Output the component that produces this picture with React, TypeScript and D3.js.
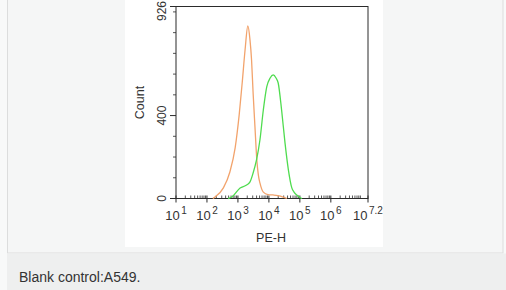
import React from "react";
import * as d3 from "d3";

// PE-H exponent (log10) and counts
const blankExp = [2.19, 2.26, 2.53, 2.74, 2.91, 3.04, 3.14, 3.23, 3.32, 3.39, 3.44, 3.49, 3.55, 3.61, 3.66, 3.71, 3.82, 3.97, 4.14, 4.29, 4.46, 4.58];
const blankCount = [0, 7, 51, 128, 244, 403, 562, 716, 832, 764, 668, 509, 345, 186, 113, 75, 31, 19, 17, 14, 7, 0];
const sampleExp = [2.68, 2.8, 3.07, 3.28, 3.39, 3.49, 3.6, 3.71, 3.82, 3.93, 4.04, 4.14, 4.23, 4.3, 4.41, 4.52, 4.63, 4.74, 4.81, 4.9, 5.0, 5.07];
const sampleCount = [0, 7, 51, 65, 80, 123, 186, 282, 427, 538, 581, 596, 581, 557, 427, 268, 137, 51, 31, 17, 5, 0];
const xTickExps = ["1", "2", "3", "4", "5", "6", "7.2"];
const yTickLabels = [0, 400, 926];
const yMax = 926;
const xLabel = "PE-H";
const yLabel = "Count";
const caption = "Blank control:A549.";

export default function App() {
  const left = 176, right = 368, top = 6.5, bottom = 198.5;
  const x = d3.scaleLog().domain([10, Math.pow(10, 7.2)]).range([left, right]);
  const y = d3.scaleLinear().domain([0, yMax]).range([bottom, top]);
  const line = d3
    .line<[number, number]>()
    .x((d) => x(Math.pow(10, d[0])))
    .y((d) => y(d[1]))
    .curve(d3.curveMonotoneX);
  const blank = line(blankExp.map((e, i) => [e, blankCount[i]] as [number, number])) || "";
  const sample = line(sampleExp.map((e, i) => [e, sampleCount[i]] as [number, number])) || "";

  const minorX: number[] = [];
  for (let d = 1; d <= 7; d++) {
    for (let k = 2; k <= 9; k++) {
      const v = k * Math.pow(10, d);
      if (v < Math.pow(10, 7.2)) minorX.push(v);
    }
  }
  const minorY: number[] = [];
  for (let v = 100; v < yMax; v += 100) if (v !== 400) minorY.push(v);

  const axisColor = "#2b2b2b";
  const textColor = "#333";
  const font = "Arial, 'Liberation Sans', sans-serif";

  return (
    <svg
      width={506}
      height={290}
      style={{ position: "fixed", left: 0, top: 0, display: "block" }}
      fontFamily={font}
    >
      <rect x={0} y={0} width={506} height={290} fill="#f8f9f9" />
      <rect x={7.5} y={-1} width={495.5} height={254} fill="#f5f6f6" stroke="#dcdddd" />
      <rect x={7} y={253.5} width={499} height={37} fill="#eeefef" />
      <rect x={125} y={0} width={258} height={247} fill="#ffffff" />

      {/* frame */}
      <rect x={left} y={top} width={right - left} height={bottom - top} fill="none" stroke={axisColor} strokeWidth={1} />

      {/* x ticks */}
      {minorX.map((v, i) => (
        <line key={"mx" + i} x1={x(v)} x2={x(v)} y1={bottom} y2={bottom - 3} stroke={axisColor} strokeWidth={0.8} />
      ))}
      {xTickExps.map((e) => {
        const px = x(Math.pow(10, parseFloat(e)));
        return (
          <g key={"x" + e}>
            <line x1={px} x2={px} y1={bottom - 3} y2={bottom + 4} stroke={axisColor} strokeWidth={1} />
            <text x={px} y={220} textAnchor="middle" fontSize={13} fill={textColor}>
              10
              <tspan dx={1.5} dy={-6} fontSize={10}>
                {e}
              </tspan>
            </text>
          </g>
        );
      })}

      {/* y ticks */}
      {minorY.map((v) => (
        <line key={"my" + v} x1={left - 3} x2={left} y1={y(v)} y2={y(v)} stroke={axisColor} strokeWidth={0.8} />
      ))}
      {yTickLabels.map((v) => (
        <g key={"y" + v}>
          <line x1={left - 6} x2={left} y1={y(v)} y2={y(v)} stroke={axisColor} strokeWidth={1} />
          <text
            transform={`translate(${165.5},${Math.max(y(v), 11)}) rotate(-90)`}
            textAnchor="middle"
            fontSize={12}
            fill={textColor}
          >
            {v}
          </text>
        </g>
      ))}

      {/* curves */}
      <path d={blank} fill="none" stroke="#f2a36c" strokeWidth={1.3} />
      <path d={sample} fill="none" stroke="#4fdc4f" strokeWidth={1.3} />

      {/* axis labels */}
      <text x={271} y={241.5} textAnchor="middle" fontSize={12.5} fill={textColor}>
        {xLabel}
      </text>
      <text transform={`translate(144,${(top + bottom) / 2}) rotate(-90)`} textAnchor="middle" fontSize={12.5} fill={textColor}>
        {yLabel}
      </text>

      <text x={19} y={282} fontSize={14} fill="#333">
        {caption}
      </text>
    </svg>
  );
}
